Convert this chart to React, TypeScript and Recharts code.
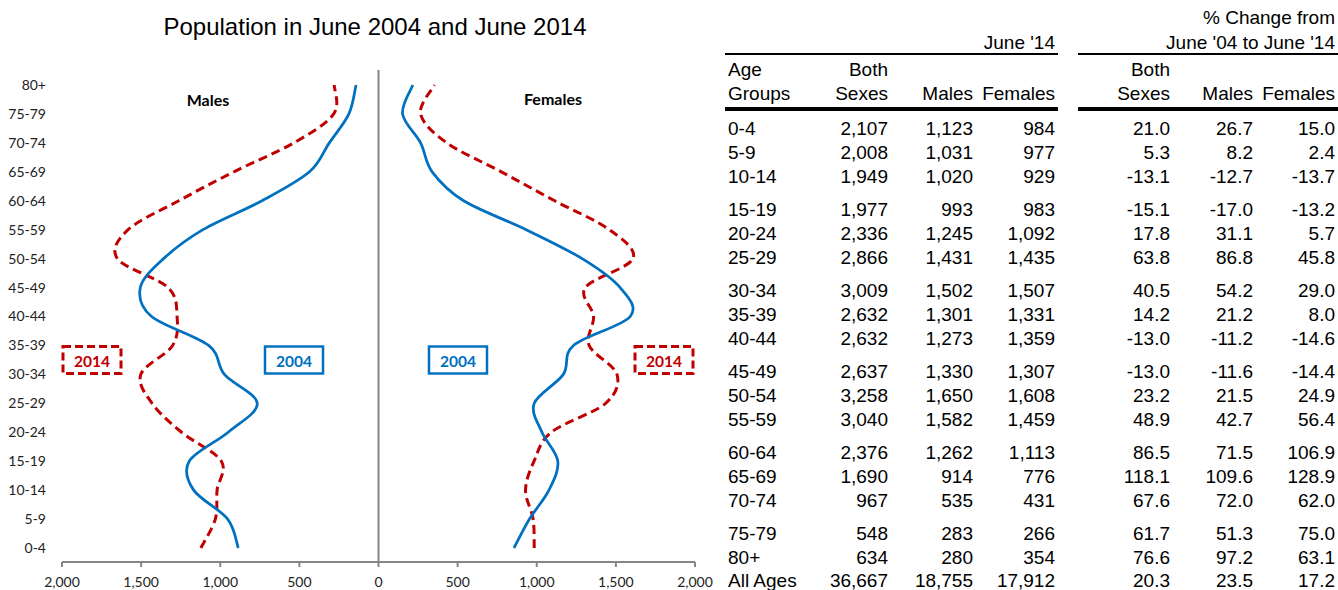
import React from "react";
import { LineChart, Line, XAxis, YAxis, ReferenceLine } from "recharts";

// age groups, youngest first (same order as the table)
const ageGroups = ["0-4", "5-9", "10-14", "15-19", "20-24", "25-29", "30-34", "35-39", "40-44", "45-49", "50-54", "55-59", "60-64", "65-69", "70-74", "75-79", "80+"];

// June 2014 (table)
const bothSexes14 = [2107, 2008, 1949, 1977, 2336, 2866, 3009, 2632, 2632, 2637, 3258, 3040, 2376, 1690, 967, 548, 634];
const males14 = [1123, 1031, 1020, 993, 1245, 1431, 1502, 1301, 1273, 1330, 1650, 1582, 1262, 914, 535, 283, 280];
const females14 = [984, 977, 929, 983, 1092, 1435, 1507, 1331, 1359, 1307, 1608, 1459, 1113, 776, 431, 266, 354];

// % change June '04 to June '14 (table)
const pctBoth = [21.0, 5.3, -13.1, -15.1, 17.8, 63.8, 40.5, 14.2, -13.0, -13.0, 23.2, 48.9, 86.5, 118.1, 67.6, 61.7, 76.6];
const pctMales = [26.7, 8.2, -12.7, -17.0, 31.1, 86.8, 54.2, 21.2, -11.2, -11.6, 21.5, 42.7, 71.5, 109.6, 72.0, 51.3, 97.2];
const pctFemales = [15.0, 2.4, -13.7, -13.2, 5.7, 45.8, 29.0, 8.0, -14.6, -14.4, 24.9, 56.4, 106.9, 128.9, 62.0, 75.0, 63.1];

// June 2004
const males04 = [886, 953, 1168, 1196, 950, 766, 974, 1073, 1434, 1505, 1358, 1109, 736, 436, 311, 187, 142];
const females04 = [856, 954, 1077, 1133, 1033, 984, 1168, 1232, 1591, 1527, 1287, 933, 538, 339, 266, 152, 217];

const allAges14 = [36667, 18755, 17912];
const allAgesPct = [20.3, 23.5, 17.2];

const xTicks = [-2000, -1500, -1000, -500, 0, 500, 1000, 1500, 2000];

const RED = "#C00000";
const BLUE = "#0070C0";
const AXIS = "#868686";
const CHART_FONT = "Lato, 'Open Sans', sans-serif";
const TABLE_FONT = "'Liberation Sans', Arial, sans-serif";

const data = ageGroups.map((age, i) => ({
  age,
  m14: -males14[i],
  m04: -males04[i],
  f14: females14[i],
  f04: females04[i],
}));

const fmtInt = (v: number) => v.toLocaleString("en-US");
const fmtPct = (v: number) => v.toFixed(1);

// Excel-style smoothed line (uniform Catmull-Rom as cubic beziers)
function smoothCurve(context: any) {
  let pts: number[][] = [];
  return {
    areaStart() {},
    areaEnd() {},
    lineStart() {
      pts = [];
    },
    point(x: number, y: number) {
      pts.push([+x, +y]);
    },
    lineEnd() {
      if (!pts.length) return;
      context.moveTo(pts[0][0], pts[0][1]);
      for (let i = 0; i < pts.length - 1; i++) {
        const p0 = pts[i - 1] || pts[i];
        const p1 = pts[i];
        const p2 = pts[i + 1];
        const p3 = pts[i + 2] || p2;
        context.bezierCurveTo(
          p1[0] + (p2[0] - p0[0]) / 6,
          p1[1] + (p2[1] - p0[1]) / 6,
          p2[0] - (p3[0] - p1[0]) / 6,
          p2[1] - (p3[1] - p1[1]) / 6,
          p2[0],
          p2[1]
        );
      }
    },
  };
}

function Cell({ right, cy, children, left }: { right?: number; cy: number; children: React.ReactNode; left?: number }) {
  const style: React.CSSProperties = {
    position: "absolute",
    top: cy - 11,
    lineHeight: "22px",
    whiteSpace: "nowrap",
  };
  if (left !== undefined) {
    style.left = left;
  } else {
    style.left = (right as number) - 200;
    style.width = 200;
    style.textAlign = "right";
  }
  return <div style={style}>{children}</div>;
}

const cols = [888, 973, 1055, 1170, 1253, 1335];

function Table() {
  const rowY = (i: number) => 129 + i * 24 + Math.floor(i / 3) * 9;
  return (
    <div style={{ position: "absolute", left: 0, top: 0, width: 1338, height: 590, fontFamily: TABLE_FONT, fontSize: 19, color: "#000" }}>
      <Cell right={1335} cy={18}>% Change from</Cell>
      <Cell right={1055} cy={43}>June '14</Cell>
      <Cell right={1335} cy={43}>June '04 to June '14</Cell>
      <div style={{ position: "absolute", left: 725, top: 53, width: 333, height: 2, background: "#000" }} />
      <div style={{ position: "absolute", left: 1078, top: 53, width: 260, height: 2, background: "#000" }} />
      <Cell left={728} cy={70}>Age</Cell>
      <Cell left={728} cy={94}>Groups</Cell>
      <Cell right={cols[0]} cy={70}>Both</Cell>
      <Cell right={cols[0]} cy={94}>Sexes</Cell>
      <Cell right={cols[1]} cy={94}>Males</Cell>
      <Cell right={cols[2]} cy={94}>Females</Cell>
      <Cell right={cols[3]} cy={70}>Both</Cell>
      <Cell right={cols[3]} cy={94}>Sexes</Cell>
      <Cell right={cols[4]} cy={94}>Males</Cell>
      <Cell right={cols[5]} cy={94}>Females</Cell>
      <div style={{ position: "absolute", left: 725, top: 107, width: 333, height: 4, background: "#000" }} />
      <div style={{ position: "absolute", left: 1078, top: 107, width: 260, height: 4, background: "#000" }} />
      {ageGroups.map((age, i) => (
        <React.Fragment key={age}>
          <Cell left={728} cy={rowY(i)}>{age}</Cell>
          <Cell right={cols[0]} cy={rowY(i)}>{fmtInt(bothSexes14[i])}</Cell>
          <Cell right={cols[1]} cy={rowY(i)}>{fmtInt(males14[i])}</Cell>
          <Cell right={cols[2]} cy={rowY(i)}>{fmtInt(females14[i])}</Cell>
          <Cell right={cols[3]} cy={rowY(i)}>{fmtPct(pctBoth[i])}</Cell>
          <Cell right={cols[4]} cy={rowY(i)}>{fmtPct(pctMales[i])}</Cell>
          <Cell right={cols[5]} cy={rowY(i)}>{fmtPct(pctFemales[i])}</Cell>
        </React.Fragment>
      ))}
      <Cell left={728} cy={rowY(17) - 1}>All Ages</Cell>
      {allAges14.map((v, j) => (
        <Cell key={"t" + j} right={cols[j]} cy={rowY(17) - 1}>{fmtInt(v)}</Cell>
      ))}
      {allAgesPct.map((v, j) => (
        <Cell key={"p" + j} right={cols[3 + j]} cy={rowY(17) - 1}>{fmtPct(v)}</Cell>
      ))}
    </div>
  );
}

function YearBox({ cx, cy, text, color, dashed }: { cx: number; cy: number; text: string; color: string; dashed?: boolean }) {
  return (
    <g>
      <rect
        x={cx - 29}
        y={cy - 13.5}
        width={58}
        height={27}
        fill="#fff"
        stroke={color}
        strokeWidth={dashed ? 3 : 2.5}
        strokeDasharray={dashed ? "8 4" : undefined}
      />
      <text x={cx} y={cy + 1} textAnchor="middle" dominantBaseline="central" fill={color} fontWeight="bold" fontSize={15.5} fontFamily={CHART_FONT}>
        {text}
      </text>
    </g>
  );
}

export default function App() {
  return (
    <div style={{ position: "absolute", left: 0, top: 0, width: 1338, height: 590, background: "#fff", overflow: "hidden" }}>
      <div style={{ position: "absolute", left: 0, top: 12, width: 750, textAlign: "center", fontFamily: TABLE_FONT, fontSize: 24, lineHeight: "30px", color: "#000" }}>
        Population in June 2004 and June 2014
      </div>
      <div style={{ position: "absolute", left: 0, top: 0 }}>
        <LineChart width={725} height={590} data={data} layout="vertical" margin={{ top: 70, right: 30, bottom: 0, left: 0 }}>
          <XAxis
            type="number"
            domain={[-2000, 2000]}
            ticks={xTicks}
            tickFormatter={(v: number) => fmtInt(Math.abs(v))}
            axisLine={{ stroke: AXIS, strokeWidth: 2 }}
            tickLine={{ stroke: AXIS, strokeWidth: 2 }}
            tickSize={5}
            tickMargin={10}
            height={28}
            tick={{ fontSize: 14, fill: "#222", fontFamily: CHART_FONT }}
            allowDataOverflow
          />
          <YAxis
            type="category"
            dataKey="age"
            reversed
            width={62}
            axisLine={false}
            tickLine={false}
            tickSize={0}
            tickMargin={16}
            interval={0}
            padding={{ top: 15, bottom: 14 }}
            tick={{ fontSize: 14, fill: "#222", fontFamily: CHART_FONT }}
          />
          <ReferenceLine x={0} stroke={AXIS} strokeWidth={2} />
          <Line dataKey="m14" type={smoothCurve as any} stroke={RED} strokeWidth={3} strokeDasharray="9 5" dot={false} isAnimationActive={false} />
          <Line dataKey="m04" type={smoothCurve as any} stroke={BLUE} strokeWidth={2.75} dot={false} isAnimationActive={false} />
          <Line dataKey="f14" type={smoothCurve as any} stroke={RED} strokeWidth={3} strokeDasharray="9 5" dot={false} isAnimationActive={false} />
          <Line dataKey="f04" type={smoothCurve as any} stroke={BLUE} strokeWidth={2.75} dot={false} isAnimationActive={false} />
        </LineChart>
      </div>
      <svg width={725} height={590} style={{ position: "absolute", left: 0, top: 0, pointerEvents: "none" }}>
        <text x={208} y={99} textAnchor="middle" dominantBaseline="central" fontWeight="bold" fontSize={16} fontFamily={CHART_FONT} fill="#000">Males</text>
        <text x={553} y={98} textAnchor="middle" dominantBaseline="central" fontWeight="bold" fontSize={16} fontFamily={CHART_FONT} fill="#000">Females</text>
        <YearBox cx={92} cy={360} text="2014" color={RED} dashed />
        <YearBox cx={294} cy={360} text="2004" color={BLUE} />
        <YearBox cx={458} cy={360} text="2004" color={BLUE} />
        <YearBox cx={664} cy={360} text="2014" color={RED} dashed />
      </svg>
      <Table />
    </div>
  );
}
